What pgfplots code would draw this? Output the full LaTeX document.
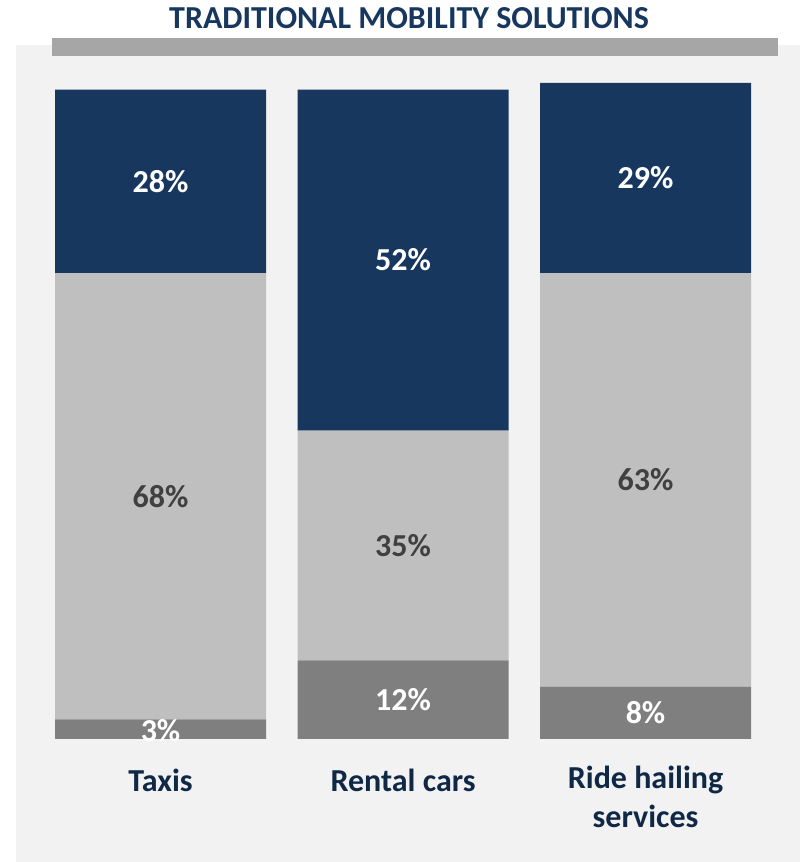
\documentclass[border=0pt]{standalone}
\usepackage{pgfplots}
\pgfplotsset{compat=1.18}
\usepackage{fontspec}
\setmainfont{Carlito}
\definecolor{navy}{HTML}{17375E}
\definecolor{navytxt}{HTML}{0F2846}
\definecolor{lgray}{HTML}{BFBFBF}
\definecolor{dgray}{HTML}{7F7F7F}
\definecolor{bgcol}{HTML}{F2F2F2}
\definecolor{barcol}{HTML}{A6A6A6}
\definecolor{txtgray}{HTML}{404040}
\begin{document}
\begin{tikzpicture}
\fill[white] (0,0) rectangle (400pt,431pt);
\fill[bgcol] (8pt,0) rectangle (400pt,408.5pt);
\fill[barcol] (26pt,403pt) rectangle (389pt,412pt);
\node[font=\bfseries\fontsize{16}{18}\selectfont, text=navy] at (204.5pt,422pt) {TRADITIONAL MOBILITY SOLUTIONS};
\pgfplotsset{myaxis/.style={
  at={(0,0)}, anchor=south west,
  scale only axis, width=400pt, height=431pt,
  xmin=-0.662, xmax=2.637, ymin=-18.75, ymax=112.65,
  hide axis, clip=false}}
\begin{axis}[myaxis, ybar stacked, bar width=0.87]
\addplot[fill=dgray, draw=none] coordinates {(0,3) (1,12) (2,8)};
\addplot[fill=lgray, draw=none] coordinates {(0,68) (1,35) (2,63)};
\addplot[fill=navy, draw=none] coordinates {(0,28) (1,52) (2,29)};
\node[font=\bfseries\fontsize{16}{19}\selectfont, text=navytxt] at (axis cs:0,-6.25) {Taxis};
\node[font=\bfseries\fontsize{16}{19}\selectfont, text=navytxt] at (axis cs:1,-6.25) {Rental cars};
\node[font=\bfseries\fontsize{16}{19}\selectfont, text=navytxt, align=center, anchor=north] at (axis cs:2,-3.0) {Ride hailing\\[0.9pt]services};
\end{axis}
\begin{axis}[myaxis]
\addplot[only marks, mark=none, nodes near coords, point meta=explicit symbolic,
  every node near coord/.append style={anchor=center, text=white, font=\bfseries\fontsize{16}{18}\selectfont}]
  coordinates {(0,1.3)[3\%] (1,6)[12\%] (2,4)[8\%] (0,85)[28\%] (1,73)[52\%] (2,85.5)[29\%]};
\addplot[only marks, mark=none, nodes near coords, point meta=explicit symbolic,
  every node near coord/.append style={anchor=center, text=txtgray, font=\bfseries\fontsize{16}{18}\selectfont}]
  coordinates {(0,37)[68\%] (1,29.5)[35\%] (2,39.5)[63\%]};
\end{axis}
\end{tikzpicture}
\end{document}
